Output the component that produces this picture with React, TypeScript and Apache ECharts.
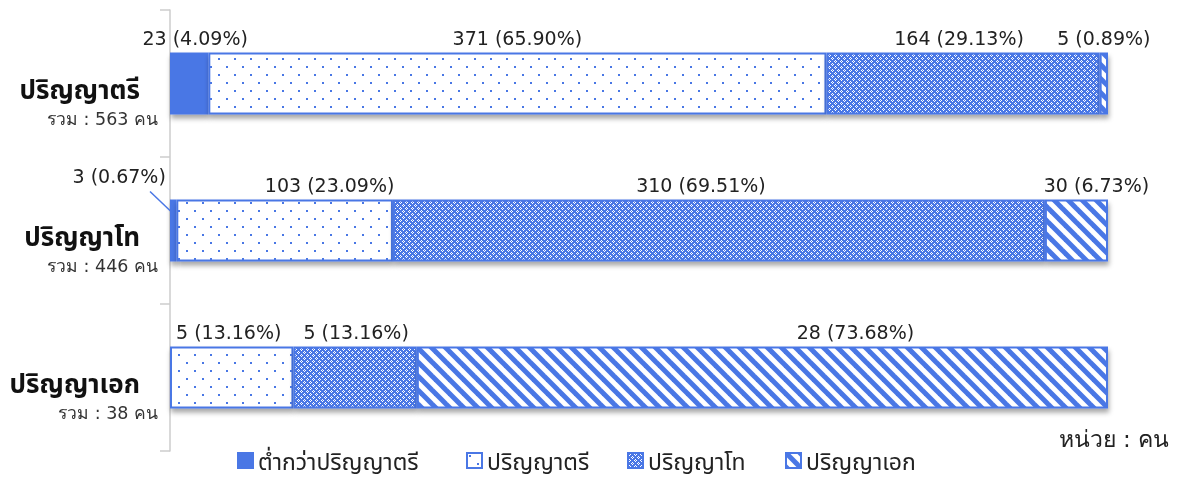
import React, { useEffect, useRef } from "react";
import * as echarts from "echarts";

const CATEGORIES = ["ปริญญาตรี", "ปริญญาโท", "ปริญญาเอก"];
const SERIES_NAMES = ["ต่ำกว่าปริญญาตรี", "ปริญญาตรี", "ปริญญาโท", "ปริญญาเอก"];
const BELOW_BACHELOR = [23, 3, 0];
const BACHELOR = [371, 103, 5];
const MASTER = [164, 310, 5];
const DOCTORATE = [5, 30, 28];
const TOTALS = [563, 446, 38];
const UNIT_LABEL = "หน่วย : คน";

// label nudges (layout only), [series][category]
const LABEL_DX = [
  [6, -54, 0],
  [0, 45, -3],
  [-4, -18, 1],
  [0, 20, 93],
];
const LABEL_DY = [
  [0, -9, 0],
  [0, 0, 0],
  [0, 0, 0],
  [0, 0, 0],
];
// legend item left edges (layout only)
const LEGEND_LEFT = [237, 466, 627, 785];

const BLUE = "#4a77e5";
const FONT = "'Noto Sans', 'Noto Sans Thai', Roboto, sans-serif";
const NUM_FONT = "'DejaVu Sans', 'Noto Sans', sans-serif";

function makeCanvas(w: number, h: number, draw: (c: CanvasRenderingContext2D) => void) {
  const cv = document.createElement("canvas");
  cv.width = w;
  cv.height = h;
  const ctx = cv.getContext("2d")!;
  draw(ctx);
  return cv;
}

export default function App() {
  const ref = useRef<HTMLDivElement>(null);
  useEffect(() => {
    if (!ref.current) return;
    const chart = echarts.init(ref.current, undefined, { renderer: "svg" });

    const dots = makeCanvas(16, 16, (c) => {
      c.fillStyle = "#ffffff";
      c.fillRect(0, 0, 16, 16);
      c.fillStyle = BLUE;
      c.fillRect(2, 2, 2, 2);
      c.fillRect(10, 10, 2, 2);
    });
    const checker = makeCanvas(6, 6, (c) => {
      c.fillStyle = BLUE;
      c.fillRect(0, 0, 6, 6);
      c.fillStyle = "#ffffff";
      const px = [
        [1, 0], [0, 1], [2, 1], [1, 2],
        [4, 3], [3, 4], [5, 4], [4, 5],
      ];
      px.forEach(([x, y]) => c.fillRect(x, y, 1, 1));
    });
    const stripes = makeCanvas(14, 14, (c) => {
      c.fillStyle = "#ffffff";
      c.fillRect(0, 0, 14, 14);
      c.strokeStyle = BLUE;
      c.lineWidth = 5;
      [-14, 0, 14].forEach((x0) => {
        c.beginPath();
        c.moveTo(x0 - 2, -2);
        c.lineTo(x0 + 16, 16);
        c.stroke();
      });
    });

    const fills: any[] = [
      BLUE,
      { image: dots, repeat: "repeat" },
      { image: checker, repeat: "repeat" },
      { image: stripes, repeat: "repeat" },
    ];
    const raw = [BELOW_BACHELOR, BACHELOR, MASTER, DOCTORATE];

    const series = raw.map((vals, si) => ({
      name: SERIES_NAMES[si],
      type: "bar",
      stack: "total",
      barWidth: 62,
      itemStyle: {
        color: fills[si],
        borderColor: BLUE,
        borderWidth: 2,
        shadowBlur: 5,
        shadowColor: "rgba(0,0,0,0.35)",
        shadowOffsetX: 1,
        shadowOffsetY: 4,
      },
      label: {
        show: true,
        position: "top",
        distance: 5,
        fontFamily: NUM_FONT,
        fontSize: 19,
        color: "#222",
        formatter: (p: any) => {
          const count = vals[p.dataIndex];
          if (!count) return "";
          return `${count} (${((count / TOTALS[p.dataIndex]) * 100).toFixed(2)}%)`;
        },
      },
      labelLayout: (p: any) => ({
        dx: LABEL_DX[si][p.dataIndex],
        dy: LABEL_DY[si][p.dataIndex],
      }),
      data: vals.map((v, ci) => ({ value: (v / TOTALS[ci]) * 100 })),
    }));

    chart.setOption({
      animation: false,
      textStyle: { fontFamily: FONT },
      grid: { left: 170, right: 79, top: 10, bottom: 51 },
      xAxis: { type: "value", min: 0, max: 100, show: false },
      yAxis: {
        type: "category",
        inverse: true,
        data: CATEGORIES,
        axisLine: { show: true, lineStyle: { color: "#cccccc", width: 1.5 } },
        axisTick: { show: true, length: 10, lineStyle: { color: "#cccccc", width: 1.5 } },
        axisLabel: {
          margin: 12,
          align: "right",
          padding: [40, 0, 0, 0],
          formatter: (value: string, index: number) =>
            `{t|${value}}{g| }\n{s|รวม : ${TOTALS[index]} คน}`,
          rich: {
            t: {
              fontFamily: FONT,
              fontSize: 26,
              fontWeight: "bold",
              color: "#111",
              lineHeight: 30,
            },
            g: { width: 18, fontSize: 10, lineHeight: 30 },
            s: { fontFamily: NUM_FONT, fontSize: 17.5, color: "#333", lineHeight: 30 },
          },
        },
      },
      legend: SERIES_NAMES.map((name, i) => ({
        data: [name],
        left: LEGEND_LEFT[i],
        top: 449,
        padding: 0,
        icon: "rect",
        itemWidth: 15,
        itemHeight: 15,
        itemGap: 24,
        textStyle: { fontFamily: FONT, fontSize: 23, color: "#222" },
      })),
      series,
    });

    // guide line for the moved label, placed through the chart's own scales
    const barHalf = 31;
    const [x0, yc] = chart.convertToPixel({ gridIndex: 0 }, [0, CATEGORIES[1]]) as number[];
    const yTop = yc - barHalf;
    chart.setOption({
      graphic: [
        {
          type: "text",
          right: 18,
          top: 427,
          style: { text: UNIT_LABEL, font: `23px ${NUM_FONT}`, fill: "#222" },
        },
        {
          type: "line",
          shape: { x1: x0 - 20, y1: yTop - 8, x2: x0 + 1, y2: yTop + 12 },
          style: { stroke: BLUE, lineWidth: 1.5 },
          z: 10,
        },
      ],
    });
    return () => chart.dispose();
  }, []);
  return (
    <div
      ref={ref}
      style={{ position: "fixed", left: 0, top: 0, width: 1187, height: 502 }}
    />
  );
}
